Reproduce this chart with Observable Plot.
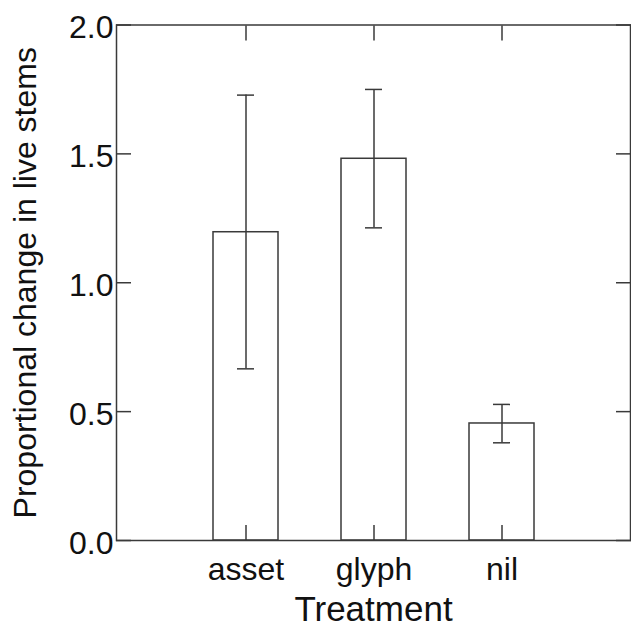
<!DOCTYPE html>
<html>
<head>
<meta charset="utf-8">
<script src="https://cdn.jsdelivr.net/npm/d3@7"></script>
<script src="https://cdn.jsdelivr.net/npm/@observablehq/plot@0.6"></script>
<style>
  body { margin: 0; background: #fff; }
  #chart svg { display: block; overflow: visible; }
</style>
</head>
<body>
<div id="chart"></div>
<script>
const treatments = ["asset", "glyph", "nil"];
const means = [1.196, 1.481, 0.454];
const lower = [0.666, 1.213, 0.379];
const upper = [1.728, 1.750, 0.528];
const yTicks = [0, 0.5, 1.0, 1.5, 2.0];
const xTitle = "Treatment";
const yTitle = "Proportional change in live stems";

const data = treatments.map((t, i) => ({t, mean: means[i], lo: lower[i], hi: upper[i]}));

const ink = "#3a3a3a";
const font = "'Liberation Sans', Arial, sans-serif";

const chart = Plot.plot({
  width: 631,
  height: 628,
  marginLeft: 116,
  marginRight: 1,
  marginTop: 24.5,
  marginBottom: 88,
  style: {fontFamily: font, background: "#fff", color: "#111"},
  x: {type: "band", domain: treatments, paddingInner: 0.494, paddingOuter: 0.747, label: null},
  y: {domain: [0, 2], label: null},
  marks: [
    Plot.barY(data, {x: "t", y: "mean", fill: "white", stroke: ink, strokeWidth: 1.5}),
    Plot.ruleX(data, {x: "t", y1: "lo", y2: "hi", stroke: ink, strokeWidth: 1.5}),
    Plot.tickY(data, {x: "t", y: "hi", stroke: ink, strokeWidth: 1.5, insetLeft: 24, insetRight: 24}),
    Plot.tickY(data, {x: "t", y: "lo", stroke: ink, strokeWidth: 1.5, insetLeft: 24, insetRight: 24}),
    Plot.frame({stroke: ink, strokeWidth: 1.5}),
    // inward tick marks on all four sides
    Plot.axisY({anchor: "left", ticks: yTicks, tickSize: -15, fill: "none", stroke: ink, strokeWidth: 1.5, label: null}),
    Plot.axisY({anchor: "right", ticks: yTicks, tickSize: -15, fill: "none", stroke: ink, strokeWidth: 1.5, label: null}),
    Plot.axisX({anchor: "bottom", tickSize: -15, fill: "none", stroke: ink, strokeWidth: 1.5, label: null}),
    Plot.axisX({anchor: "top", tickSize: -15, fill: "none", stroke: ink, strokeWidth: 1.5, label: null}),
    // tick labels
    Plot.axisY({anchor: "left", ticks: yTicks, tickFormat: d3.format(".1f"), tickSize: 0, tickPadding: 3, fontSize: 32, fill: "#111", dy: 3, label: null}),
    Plot.axisX({anchor: "bottom", tickSize: 0, tickPadding: 17, fontSize: 32, fill: "#111", label: null}),
    // axis titles
    Plot.text([xTitle], {text: d => d, frameAnchor: "bottom", textAnchor: "middle", lineAnchor: "middle", dy: 69.5, fontSize: 35, fill: "#111"}),
    Plot.text([yTitle], {text: d => d, frameAnchor: "left", textAnchor: "middle", rotate: -90, lineAnchor: "middle", dx: -91, fontSize: 32, fill: "#111"})
  ]
});
document.getElementById("chart").appendChild(chart);
</script>
</body>
</html>
